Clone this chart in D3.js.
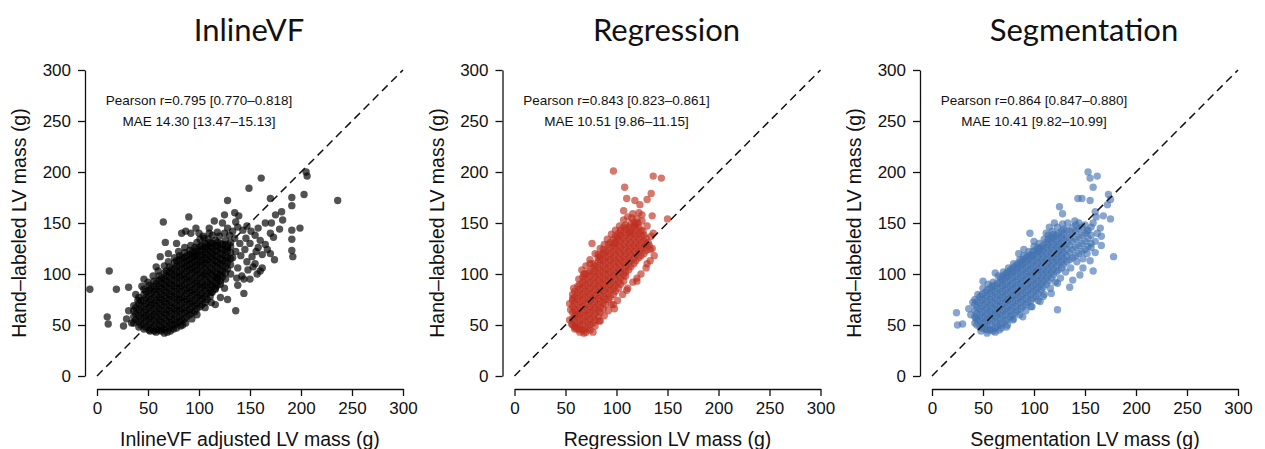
<!DOCTYPE html>
<html>
  <head>
    <meta charset="UTF-8">
    <title>LV mass agreement</title>
    <style>
      body { margin: 0; background: #fff; }
      text { font-family: "Liberation Sans", Arial, sans-serif; fill: #111; }
      .title { font-family: Lato, "Open Sans", sans-serif; font-size: 31px; }
      .ticks text { font-size: 17px; }
      .lab { font-size: 19.5px; }
      .note { font-size: 13.5px; }
    </style>
  </head>
  <body>
    <script src="https://d3js.org/d3.v7.min.js"></script>
    <script>
      // labels
      var titles = ["InlineVF", "Regression", "Segmentation"];
      var xLabels = ["InlineVF adjusted LV mass (g)", "Regression LV mass (g)", "Segmentation LV mass (g)"];
      var yLabel = "Hand\u2013labeled LV mass (g)";
      var tickVals = [0, 50, 100, 150, 200, 250, 300];
      var pearsonText = ["Pearson r=0.795 [0.770\u20130.818]", "Pearson r=0.843 [0.823\u20130.861]", "Pearson r=0.864 [0.847\u20130.880]"];
      var maeText = ["MAE 14.30 [13.47\u201315.13]", "MAE 10.51 [9.86\u201311.15]", "MAE 10.41 [9.82\u201310.99]"];
      var colors = ["rgba(0,0,0,0.68)", "rgba(190,48,32,0.65)", "rgba(66,114,176,0.63)"];

      // InlineVF: dense core by column [x, [y...]] + scattered points [x, y]
      var inlineCore = [
        [36, [52, 58, 64, 69]],
        [41, [48, 53, 59, 65, 71, 77]],
        [46, [46, 51, 57, 62, 68, 74, 80, 85]],
        [51, [45, 50, 56, 61, 67, 72, 78, 84, 89]],
        [56, [44, 49, 55, 60, 66, 71, 77, 83, 88, 93]],
        [61, [45, 50, 55, 61, 66, 72, 77, 83, 88, 94, 98]],
        [66, [46, 51, 57, 62, 68, 73, 79, 84, 90, 95, 101]],
        [71, [47, 53, 58, 64, 69, 75, 80, 86, 91, 97, 102, 107]],
        [76, [50, 55, 61, 66, 72, 77, 83, 88, 94, 99, 105, 111]],
        [81, [53, 58, 64, 69, 75, 80, 86, 91, 97, 102, 108, 114, 118]],
        [86, [56, 62, 67, 73, 78, 84, 89, 95, 100, 106, 111, 116, 121]],
        [91, [60, 65, 71, 76, 82, 87, 93, 98, 104, 109, 114, 119, 123]],
        [96, [63, 69, 74, 80, 85, 91, 96, 102, 107, 112, 117, 122, 126]],
        [101, [68, 74, 79, 85, 90, 96, 101, 107, 112, 117, 122, 127]],
        [106, [72, 78, 84, 89, 95, 100, 106, 111, 116, 121, 126, 130]],
        [111, [78, 84, 90, 95, 101, 106, 112, 117, 122, 127, 131]],
        [116, [85, 91, 97, 102, 108, 113, 118, 123, 128, 133]],
        [121, [93, 99, 104, 110, 115, 120, 125, 130]],
        [126, [101, 107, 113, 118, 124, 129, 133]],
        [131, [109, 115, 121, 127, 131]]
      ];
      var inlineCore2 = [
        [38, [55, 61, 67]],
        [43, [50, 56, 62, 68, 74]],
        [48, [48, 54, 59, 65, 71, 77, 83]],
        [53, [47, 53, 58, 64, 70, 75, 81, 86]],
        [58, [46, 52, 58, 63, 69, 74, 80, 85, 91]],
        [63, [47, 53, 58, 64, 69, 75, 80, 86, 91, 96]],
        [68, [48, 54, 60, 65, 71, 76, 82, 87, 93, 98, 103]],
        [73, [50, 55, 61, 67, 72, 78, 83, 89, 94, 100, 105]],
        [78, [52, 58, 64, 69, 75, 80, 86, 91, 97, 102, 108, 113]],
        [83, [55, 61, 66, 72, 77, 83, 88, 94, 99, 105, 110, 116]],
        [88, [58, 64, 70, 75, 81, 86, 92, 97, 103, 108, 113, 118]],
        [93, [62, 68, 73, 79, 84, 90, 95, 101, 106, 111, 116, 121]],
        [98, [66, 71, 77, 82, 88, 93, 99, 104, 109, 114, 119, 124]],
        [103, [70, 76, 81, 87, 92, 98, 103, 109, 114, 119, 124, 128]],
        [108, [75, 81, 87, 92, 98, 103, 109, 114, 119, 124, 128]],
        [113, [82, 88, 93, 99, 104, 110, 115, 120, 125, 130]],
        [118, [89, 95, 100, 106, 111, 117, 122, 127, 131]],
        [123, [97, 102, 108, 113, 119, 124, 129]],
        [128, [105, 111, 116, 122, 127]]
      ];
      var inlineScatter = [
        [-7, 85], [12, 103], [19, 85], [31, 87], [31, 64], [46, 95], [10, 58], [11, 51], [26, 49], [29, 56], [34, 52],
        [65, 151], [67, 131], [90, 156], [83, 140], [87, 142], [92, 140], [101, 134], [128, 172], [125, 158], [135, 160],
        [139, 157], [136, 151], [149, 184], [161, 194], [205, 200], [206, 196], [203, 178], [236, 172], [191, 175], [191, 167],
        [170, 174], [175, 158], [181, 161], [182, 153], [179, 144], [171, 150], [173, 136], [170, 120], [174, 114], [162, 106],
        [160, 103], [199, 145], [191, 143], [191, 134], [191, 123], [192, 117], [144, 81], [136, 64], [128, 75], [121, 77],
        [138, 89], [144, 95], [153, 107], [100, 140], [104, 137], [109, 134], [113, 138], [118, 141], [97, 145], [110, 145],
        [115, 152], [123, 150], [128, 145], [133, 142], [138, 146], [143, 143], [147, 147], [151, 142], [155, 138], [160, 133],
        [165, 129], [158, 126], [150, 130], [145, 124], [140, 130], [136, 122], [141, 118], [147, 112], [152, 117], [156, 122],
        [162, 119], [167, 124], [135, 135], [130, 138], [125, 140], [120, 137], [128, 126], [133, 116], [138, 106], [131, 100],
        [126, 95], [121, 90], [116, 86], [112, 82], [125, 86], [118, 96], [142, 98], [148, 104], [155, 110], [157, 100],
        [150, 95], [137, 96], [112, 72], [106, 67], [116, 70], [98, 60], [93, 56], [87, 52], [82, 49], [75, 46], [69, 43],
        [63, 44], [58, 43], [52, 44], [66, 42], [72, 44], [78, 47], [84, 50], [40, 74], [38, 80], [44, 88], [50, 92],
        [55, 98], [60, 103], [66, 108], [70, 112], [76, 116], [80, 122], [86, 126], [92, 128], [98, 131], [105, 135],
        [110, 140], [58, 107], [70, 120], [62, 117], [78, 130], [95, 118], [146, 135], [170, 140], [165, 150], [158, 145]
      ];

      // Regression
      var regCore = [
        [57, [50, 56, 62, 68, 74, 80]],
        [62, [46, 52, 58, 64, 70, 76, 82, 88]],
        [67, [45, 50, 56, 62, 68, 74, 80, 86, 92, 97]],
        [72, [47, 53, 59, 65, 71, 77, 83, 89, 95, 101]],
        [77, [52, 58, 64, 70, 76, 82, 88, 94, 100, 106, 110]],
        [82, [58, 64, 70, 76, 82, 88, 94, 100, 106, 112, 116]],
        [87, [66, 72, 78, 84, 90, 96, 102, 108, 114, 120, 124]],
        [92, [75, 81, 87, 93, 99, 105, 111, 117, 123, 129]],
        [97, [80, 86, 92, 98, 104, 110, 116, 122, 128, 134]],
        [102, [86, 92, 98, 104, 110, 116, 122, 128, 134, 140]],
        [107, [93, 99, 105, 111, 117, 123, 129, 135, 141, 146]],
        [112, [104, 110, 116, 122, 128, 134, 140, 146]],
        [117, [110, 116, 122, 128, 134, 140, 146, 151]],
        [122, [116, 122, 128, 134, 140, 146]],
        [127, [120, 126, 132, 138]]
      ];
      var regCore2 = [
        [59, [48, 53, 59, 65, 71, 77, 83]],
        [64, [46, 49, 55, 61, 67, 73, 79, 85, 90]],
        [69, [46, 53, 59, 65, 71, 77, 83, 89, 95, 100]],
        [74, [50, 56, 62, 68, 74, 80, 86, 92, 98, 103]],
        [79, [55, 61, 67, 73, 79, 85, 91, 97, 103, 108]],
        [84, [62, 67, 73, 79, 85, 91, 97, 103, 109, 114, 118]],
        [89, [70, 75, 81, 87, 93, 99, 105, 111, 117, 122]],
        [94, [77, 84, 90, 96, 102, 108, 114, 120, 126, 131]],
        [99, [83, 89, 95, 101, 107, 113, 119, 125, 131, 137]],
        [104, [90, 96, 102, 108, 114, 120, 126, 132, 138, 143]],
        [109, [98, 102, 108, 114, 120, 126, 132, 138, 144, 148]],
        [114, [107, 113, 119, 125, 131, 137, 143, 149]],
        [119, [113, 119, 125, 131, 137, 143, 149]],
        [124, [118, 125, 131, 137, 143]],
        [129, [123, 129, 135]]
      ];
      var regScatter = [
        [97, 201], [136, 196], [144, 194], [108, 185], [134, 179], [110, 174], [118, 172], [123, 168], [130, 173], [107, 162],
        [116, 159], [122, 160], [125, 158], [135, 157], [150, 154], [98, 130], [101, 136], [76, 130], [74, 114], [82, 119],
        [68, 100], [57, 76], [54, 55], [59, 46], [68, 42], [77, 43], [83, 54], [98, 66], [95, 70], [110, 84], [120, 93],
        [130, 110], [133, 124], [132, 128], [134, 137], [136, 140], [60, 60], [55, 65], [54, 71], [58, 86], [63, 95],
        [66, 104], [70, 108], [74, 110], [79, 120], [84, 125], [88, 129], [91, 134], [95, 139], [99, 143], [103, 147],
        [107, 153], [111, 156], [115, 155], [120, 154], [125, 152], [130, 147], [126, 142], [131, 131], [135, 125], [137, 118],
        [133, 113], [129, 106], [124, 100], [120, 96], [116, 92], [111, 86], [106, 80], [101, 74], [97, 70], [92, 64],
        [88, 59], [84, 54], [79, 49], [74, 45], [70, 43], [64, 43], [60, 48], [56, 51], [113, 141], [118, 148], [121, 150]
      ];

      // Segmentation
      var segCore = [
        [42, [52, 58, 64, 70, 75]],
        [47, [48, 54, 60, 66, 72, 78]],
        [52, [46, 52, 58, 64, 70, 76, 82]],
        [57, [45, 51, 57, 63, 69, 75, 81, 86]],
        [62, [47, 53, 59, 65, 71, 77, 83, 89]],
        [67, [50, 56, 62, 68, 74, 80, 86, 92, 96]],
        [72, [54, 60, 66, 72, 78, 84, 90, 96, 100]],
        [77, [58, 64, 70, 76, 82, 88, 94, 100, 104]],
        [82, [62, 68, 74, 80, 86, 92, 98, 104, 108]],
        [87, [66, 72, 78, 84, 90, 96, 102, 108, 112]],
        [92, [70, 76, 82, 88, 94, 100, 106, 112, 116]],
        [97, [74, 80, 86, 92, 98, 104, 110, 116, 119]],
        [102, [78, 84, 90, 96, 102, 108, 114, 120, 124]],
        [107, [84, 90, 96, 102, 108, 114, 120, 126]],
        [112, [90, 96, 102, 108, 114, 120, 126, 131]],
        [117, [96, 102, 108, 114, 120, 126, 132, 136]],
        [122, [102, 108, 114, 120, 126, 132, 138]],
        [127, [106, 112, 118, 124, 130, 136, 142]],
        [132, [112, 118, 124, 130, 136, 143]],
        [138, [116, 124, 132, 140, 146]],
        [144, [120, 128, 136, 144, 150]],
        [150, [124, 132, 140, 148]],
        [156, [130, 138, 146]]
      ];
      var segCore2 = [
        [44, [50, 55, 61, 67, 73]],
        [49, [47, 51, 57, 63, 69, 75, 80]],
        [54, [45, 49, 55, 61, 67, 73, 79, 84]],
        [59, [46, 54, 60, 66, 72, 78, 84, 88]],
        [64, [49, 56, 62, 68, 74, 80, 86, 91]],
        [69, [52, 59, 65, 71, 77, 83, 89, 94, 98]],
        [74, [56, 63, 69, 75, 81, 87, 93, 98, 102]],
        [79, [60, 67, 73, 79, 85, 91, 97, 102, 106]],
        [84, [64, 71, 77, 83, 89, 95, 101, 106, 110]],
        [89, [68, 75, 81, 87, 93, 99, 105, 110, 114]],
        [94, [72, 79, 85, 91, 97, 103, 109, 114, 118]],
        [99, [76, 83, 89, 95, 101, 107, 113, 118, 122]],
        [104, [81, 87, 93, 99, 105, 111, 117, 122, 126]],
        [109, [87, 93, 99, 105, 111, 117, 123, 128]],
        [114, [93, 99, 105, 111, 117, 123, 129, 134]],
        [119, [99, 105, 111, 117, 123, 129, 135, 139]],
        [124, [104, 111, 117, 123, 129, 135, 140]],
        [129, [109, 115, 121, 127, 133, 139, 144]],
        [135, [114, 121, 128, 135, 142]],
        [141, [118, 126, 134, 142, 148]],
        [147, [122, 130, 138, 146]],
        [153, [127, 135, 143]]
      ];
      var segScatter = [
        [153, 200], [155, 194], [162, 196], [158, 185], [143, 174], [147, 174], [155, 172], [173, 178], [175, 173], [172, 168],
        [160, 161], [161, 156], [168, 157], [175, 154], [178, 117], [158, 103], [166, 137], [125, 166], [128, 159], [96, 140],
        [115, 146], [106, 124], [62, 101], [50, 93], [24, 62], [25, 50], [30, 51], [43, 57], [60, 44], [123, 65], [117, 81],
        [109, 78], [106, 73], [123, 91], [135, 87], [138, 94], [145, 99], [148, 106], [97, 68], [89, 58], [79, 55], [66, 45],
        [73, 48], [38, 60], [36, 66], [40, 72], [45, 80], [50, 86], [55, 90], [60, 92], [65, 98], [70, 102], [75, 106],
        [80, 110], [86, 114], [90, 118], [95, 122], [100, 127], [105, 130], [110, 134], [114, 138], [118, 142], [123, 146],
        [128, 149], [133, 150], [140, 152], [120, 150], [112, 140], [100, 132], [90, 124], [85, 120], [48, 44], [54, 42],
        [62, 43], [68, 47], [74, 50], [80, 56], [86, 60], [92, 64], [98, 68], [104, 74], [110, 80], [116, 86], [121, 92],
        [126, 96], [131, 102], [136, 106], [142, 112], [148, 115], [152, 120], [156, 126], [160, 132], [162, 140], [165, 145],
        [158, 150], [152, 142], [166, 128], [160, 121], [155, 113]
      ];

      function flatten(cores, scatter) {
        var pts = [];
        cores.forEach(function(core) {
          core.forEach(function(c) {
            c[1].forEach(function(v) { pts.push([c[0], v]); });
          });
        });
        return pts.concat(scatter);
      }
      var points = [
        flatten([inlineCore, inlineCore2], inlineScatter),
        flatten([regCore, regCore2], regScatter),
        flatten([segCore, segCore2], segScatter)
      ];

      var width = 1265, height = 449;
      var svg = d3.select("body").append("svg").attr("width", width).attr("height", height);

      for (var i = 0; i < 3; i++) {
        var left = 97 + i * 417.5;
        var x = d3.scaleLinear().domain([0, 300]).range([left, left + 306]);
        var y = d3.scaleLinear().domain([0, 300]).range([376, 70]);
        var g = svg.append("g");

        g.append("text").attr("class", "title")
          .attr("x", left + 152).attr("y", 41)
          .attr("text-anchor", "middle").text(titles[i]);

        // axes, R style: detached from the plot
        var ya = g.append("g").attr("class", "ticks")
          .attr("transform", "translate(" + (left - 12) + ",0)")
          .call(d3.axisLeft(y).tickValues(tickVals).tickSize(7).tickSizeOuter(0).tickPadding(7));
        var xa = g.append("g").attr("class", "ticks")
          .attr("transform", "translate(0,389)")
          .call(d3.axisBottom(x).tickValues(tickVals).tickSize(7).tickSizeOuter(0).tickPadding(6));
        [ya, xa].forEach(function(a) {
          a.selectAll("path,line").attr("stroke", "#111").attr("stroke-width", 1.3);
          a.selectAll("text").attr("fill", "#111");
        });

        g.append("text").attr("class", "lab")
          .attr("x", left + 153).attr("y", 446)
          .attr("text-anchor", "middle").text(xLabels[i]);
        g.append("text").attr("class", "lab")
          .attr("transform", "translate(" + (left - 71) + ",223) rotate(-90)")
          .attr("text-anchor", "middle").text(yLabel);

        g.selectAll("circle")
          .data(points[i])
          .enter().append("circle")
          .attr("cx", function(d) { return x(d[0]); })
          .attr("cy", function(d) { return y(d[1]); })
          .attr("r", 3.7)
          .attr("fill", colors[i]);

        // identity line
        g.append("line")
          .attr("x1", x(0)).attr("y1", y(0))
          .attr("x2", x(300)).attr("y2", y(300))
          .attr("stroke", "#111").attr("stroke-width", 1.5)
          .attr("stroke-dasharray", "8,5");

        g.append("text").attr("class", "note")
          .attr("x", x(100)).attr("y", y(270))
          .attr("dominant-baseline", "central")
          .attr("text-anchor", "middle").text(pearsonText[i]);
        g.append("text").attr("class", "note")
          .attr("x", x(100)).attr("y", y(250))
          .attr("dominant-baseline", "central")
          .attr("text-anchor", "middle").text(maeText[i]);
      }
    </script>
  </body>
</html>
